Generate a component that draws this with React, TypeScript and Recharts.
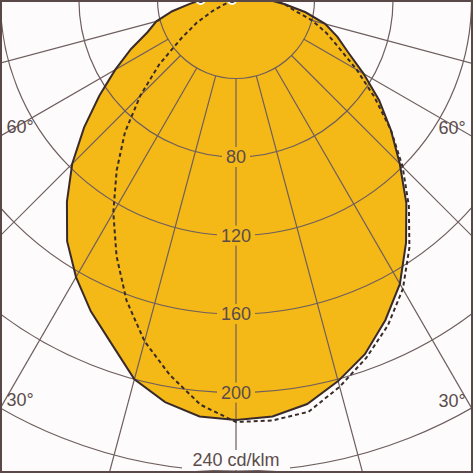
import React from 'react';
import { RadarChart, Radar, PolarAngleAxis, PolarRadiusAxis } from 'recharts';

// gamma angles, 0 = straight down, negative = left half
const angles = [
  -90, -85, -80, -75, -70, -65, -60, -55, -50, -45, -40, -35, -30, -25, -20, -15, -10, -5,
  0, 5, 10, 15, 20, 25, 30, 35, 40, 45, 50, 55, 60, 65, 70, 75, 80, 85, 90,
];
// C0-C180 plane (solid, filled)
const planeC0 = [
  18, 24, 33, 42, 48, 59, 71, 85, 101, 118, 134, 150, 163, 175, 186, 200, 208, 213,
  214, 213, 209, 201, 192, 180, 167, 151, 135, 118, 103, 89, 75, 63, 55, 47, 36, 25, 17,
];
// C90-C270 plane (dashed)
const planeC90 = [
  2, 2, 2, 3, 6, 13, 23, 34, 51, 69, 88, 106, 125, 144, 163, 180, 194, 207,
  215, 215, 213, 204, 194, 183, 170, 154, 137, 120, 103, 86, 71, 58, 49, 40, 30, 25, 20,
];
const angleTicks = [-90, -75, -60, -45, -30, -15, 0, 15, 30, 45, 60, 75, 90];
const labelledAngles = [-60, -30, 30, 60];
const radiusTicks = [40, 80, 120, 160, 200, 240];
const unit = 'cd/klm';

const data = angles.map((angle, i) => ({ angle, c0: planeC0[i], c90: planeC90[i] }));

const W = 473;
const H = 473;
const CX = 236;
const CY = 0;
const R_MAX = 270;
const OUTER = 530;
const YELLOW = '#f4b817';
const BG = '#fdfbfb';
const GRID = '#6e5e5e';
const INK = '#3a2b2b';
const TEXT = '#5b4c4c';
const FONT = '"Liberation Sans", Arial, sans-serif';

// spokes start at the innermost ring
const SPOKE_FROM = (OUTER / R_MAX) * radiusTicks[0];

const Ring = (props: any) => {
  const { x, y, cx, cy } = props;
  const r = Math.hypot(x - cx, y - cy);
  return <circle cx={cx} cy={cy} r={r} fill="none" stroke={GRID} strokeWidth={1.2} />;
};

const Spoke = (props: any) => {
  const { cx, cy, payload } = props;
  const a = (-payload.coordinate * Math.PI) / 180;
  return (
    <line
      x1={cx + SPOKE_FROM * Math.cos(a)}
      y1={cy + SPOKE_FROM * Math.sin(a)}
      x2={cx + OUTER * Math.cos(a)}
      y2={cy + OUTER * Math.sin(a)}
      stroke={GRID}
      strokeWidth={1.2}
    />
  );
};

const RadiusLabel = (props: any) => {
  const { x, y, payload } = props;
  const v = payload.value;
  if (v === radiusTicks[0]) return null;
  const last = v === radiusTicks[radiusTicks.length - 1];
  const label = last ? `${v} ${unit}` : String(v);
  const inside = v < planeC0[angles.indexOf(0)];
  const w = label.length * 10 + 8;
  const ty = Math.min(y, H - 13);
  return (
    <g>
      <rect x={x - w / 2} y={ty - 10} width={w} height={20} fill={inside ? YELLOW : BG} />
      <text x={x} y={ty} textAnchor="middle" dominantBaseline="central" fontSize={18} fill={TEXT} fontFamily={FONT}>
        {label}
      </text>
    </g>
  );
};

const AngleLabel = (props: any) => {
  const v = props.payload?.value;
  if (!labelledAngles.includes(v)) return null;
  const left = v < 0;
  const edge = left ? CX : W - CX;
  const yEdge = CY + edge / Math.tan((Math.abs(v) * Math.PI) / 180);
  return (
    <text x={left ? 20 : W - 21} y={yEdge - 9} textAnchor="middle" dominantBaseline="central" fontSize={18} fill={TEXT} fontFamily={FONT}>
      {Math.abs(v)}°
    </text>
  );
};

const chartProps = {
  width: W,
  height: H,
  data,
  cx: CX,
  cy: CY,
  outerRadius: OUTER,
  startAngle: 180,
  endAngle: 360,
  margin: { top: 0, right: 0, bottom: 0, left: 0 },
};

const layer: React.CSSProperties = { position: 'absolute', left: 0, top: 0 };

export default function App() {
  return (
    <div style={{ position: 'absolute', left: 0, top: 0, width: W, height: H, overflow: 'hidden', background: BG }}>
      {/* bottom layer: the filled C0-C180 curve */}
      <div style={layer}>
        <RadarChart {...chartProps}>
          <PolarAngleAxis dataKey="angle" type="number" domain={[-90, 90]} ticks={angleTicks} axisLine={false} tickLine={false} tick={false} />
          <PolarRadiusAxis angle={270} type="number" domain={[0, R_MAX]} ticks={radiusTicks} axisLine={false} tickLine={false} tick={false} />
          <Radar dataKey="c0" fill={YELLOW} fillOpacity={1} stroke="none" isAnimationActive={false} />
        </RadarChart>
      </div>
      {/* middle layer: rings and spokes */}
      <div style={layer}>
        <RadarChart {...chartProps}>
          <PolarAngleAxis dataKey="angle" type="number" domain={[-90, 90]} ticks={angleTicks} axisLine={false} tickLine={false} tick={<Spoke />} />
          <PolarRadiusAxis angle={270} type="number" domain={[0, R_MAX]} ticks={radiusTicks} axisLine={false} tickLine={false} tick={<Ring />} />
          <Radar dataKey="c0" fill="none" stroke="none" isAnimationActive={false} />
        </RadarChart>
      </div>
      {/* top layer: outlines and labels */}
      <div style={layer}>
        <RadarChart {...chartProps}>
          <Radar dataKey="c0" fill="none" stroke={INK} strokeWidth={2} isAnimationActive={false} />
          <Radar dataKey="c90" fill="none" stroke={INK} strokeWidth={2} strokeDasharray="4 3" isAnimationActive={false} />
          <PolarAngleAxis dataKey="angle" type="number" domain={[-90, 90]} ticks={angleTicks} axisLine={false} tickLine={false} tick={<AngleLabel />} />
          <PolarRadiusAxis angle={270} type="number" domain={[0, R_MAX]} ticks={radiusTicks} axisLine={false} tickLine={false} tick={<RadiusLabel />} />
        </RadarChart>
      </div>
      <div style={{ position: 'absolute', inset: 0, border: '2px solid #5a4848', boxSizing: 'border-box', pointerEvents: 'none' }} />
    </div>
  );
}
